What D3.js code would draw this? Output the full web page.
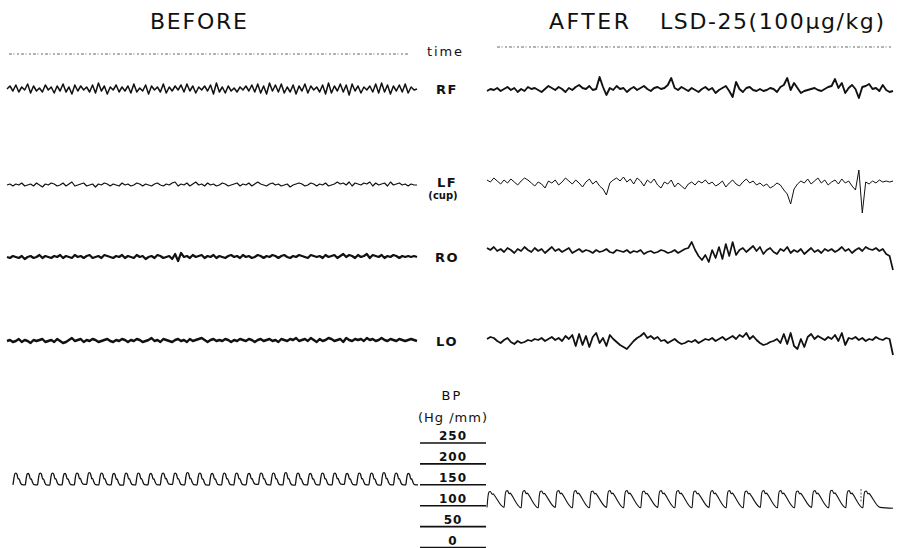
<!DOCTYPE html>
<html>
<head>
<meta charset="utf-8">
<script src="https://cdn.jsdelivr.net/npm/d3@7"></script>
<style>
  body { margin: 0; background: #fff; }
  svg { display: block; }
  text { font-family: "DejaVu Sans", sans-serif; fill: #111; }
</style>
</head>
<body>
<div id="chart"></div>
<script>
"use strict";

// EEG channels, amplitude samples (arbitrary uV, + is up)
const channels = ['RF', 'LF', 'RO', 'LO'];

const beforeRF = [
  0,3,-2,4,-3,2,-1,5,-4,3,-2,1,-3,4,-1,2,-4,3,-2,5,
  -3,2,-5,4,-2,3,-1,2,-3,4,-4,6,-2,3,-5,2,-1,4,-3,2,
  -2,3,-4,5,-3,1,-2,4,-5,3,-1,2,-3,5,-4,2,-2,3,-1,4,
  -3,5,-2,3,-4,2,-1,3,-2,4,-5,6,-3,2,-4,3,-2,1,-3,2,
  -1,3,-2,4,-3,5,-4,3,-5,6,-2,4,-3,5,-4,2,-3,4,-5,3,
  -2,5,-4,3,-1,2,-3,4,-5,6,-4,3,-2,5,-3,4,-6,5,-2,3,
  -4,2,-1,3,-3,5,-4,6,-3,4,-5,3,-2,4,-3,5,-4,2,-1,0
];
const beforeLF = [
  0,1,-1,1,0,2,-1,0,1,-1,2,0,-2,1,0,2,1,-1,0,2,
  -1,1,3,-1,0,1,2,-1,0,1,-2,1,0,2,1,-1,1,0,-1,2,
  0,1,-1,0,2,1,-1,1,0,-1,1,2,0,-1,1,0,2,3,-1,1,
  0,2,-1,1,3,0,1,-1,2,0,1,-1,0,2,1,-1,0,1,2,-1,
  1,0,2,-1,1,3,1,0,-1,1,2,0,1,-1,0,1,-2,0,1,2,
  1,-1,0,2,1,-1,1,0,2,-1,0,1,3,1,2,0,3,-1,2,1,
  0,2,1,3,-1,2,0,1,2,-1,3,0,1,2,0,1,-1,1,0,0
];
const beforeRO = [
  0,-1,1,0,-1,1,-2,0,1,-1,0,2,-1,1,0,-1,1,0,2,-1,
  1,0,-1,2,0,1,-1,1,2,-1,0,1,-1,2,1,0,-1,1,0,2,
  -1,1,0,-1,2,0,1,-2,0,1,-1,2,1,-1,0,1,-2,3,-4,4,
  0,1,-1,2,0,1,2,-1,1,0,2,-1,1,0,-1,1,2,0,1,-1,
  2,0,1,-1,0,2,1,-1,1,0,2,1,-1,1,2,0,-1,1,0,2,
  1,0,-1,2,1,0,1,-1,2,0,1,2,-1,1,3,0,2,1,-1,2,
  0,1,3,-1,2,1,0,2,-1,1,0,2,1,-1,1,0,1,0,1,0
];
const beforeLO = [
  0,1,-1,0,2,-1,1,0,-2,1,0,1,2,-1,0,1,-1,2,0,-2,
  -1,1,3,0,1,2,-1,1,0,2,1,-1,0,1,2,0,-1,1,0,2,
  1,-1,1,0,2,1,-1,0,1,3,0,1,-1,2,1,0,-1,1,2,0,
  1,-1,2,0,1,2,3,1,-1,1,2,0,1,0,2,1,-1,1,0,2,
  1,0,2,1,-1,1,2,0,1,2,0,1,-1,2,1,0,2,1,3,0,
  1,2,0,3,1,-1,2,0,1,3,2,0,1,2,-1,3,1,0,2,1,
  2,0,3,1,2,0,1,3,1,0,2,1,0,2,1,0,1,2,1,0
];

const afterRF = [
  0,2,1,3,0,2,4,1,3,-1,2,0,4,2,3,1,-1,2,5,3,
  1,4,2,-1,3,1,4,6,3,2,5,1,2,14,4,-4,3,1,5,2,
  3,-1,2,4,1,3,5,2,0,3,4,2,3,6,13,3,1,4,2,0,
  3,1,-1,2,4,1,3,-2,1,3,5,0,-6,9,2,-1,3,4,1,0,
  2,0,1,3,2,-1,4,6,13,1,8,3,-2,0,1,2,3,1,0,2,
  4,5,12,3,8,-2,3,6,2,-7,4,5,7,2,3,0,6,1,-1,0
];
const afterLF = [
  6,4,8,5,2,6,3,7,4,1,5,8,6,3,0,4,2,-2,5,3,
  6,1,4,8,5,2,6,3,-1,4,7,2,5,0,-3,-9,3,6,8,5,
  9,4,7,2,8,5,0,6,3,7,1,-2,4,2,6,-1,3,0,-3,2,
  4,1,5,3,6,2,4,0,2,5,-1,3,6,2,0,4,7,3,5,1,
  3,0,2,-2,0,3,1,-4,-8,-18,-3,2,5,3,7,2,5,8,3,6,
  1,4,6,2,7,3,5,0,-4,16,-27,4,2,5,3,6,4,5,4,5
];
const afterRO = [
  4,2,5,1,3,0,4,2,-1,3,1,5,2,0,4,1,3,-1,2,5,
  1,3,0,2,4,-1,1,3,0,2,1,-1,2,0,1,3,0,-1,2,1,
  0,2,-1,1,0,2,-2,0,1,-1,0,2,1,-1,0,2,-1,1,3,4,
  10,2,-4,-8,-3,-10,2,-6,5,-7,8,-4,10,-3,2,4,0,3,6,1,
  5,-2,2,4,0,-2,3,1,5,-1,2,0,3,-2,1,4,0,2,-1,3,
  1,3,0,2,5,1,3,-1,2,4,1,5,3,2,4,1,3,-2,-4,-18
];
const afterLO = [
  2,4,3,0,-2,1,3,-1,-3,0,-2,-1,1,0,2,1,3,0,2,4,
  1,3,0,5,2,6,-5,7,-4,5,-6,4,8,-2,3,-5,6,2,-1,-4,
  -6,-8,-4,0,3,5,8,3,5,2,4,0,1,-2,0,2,-1,-3,-2,0,
  -1,1,-2,0,2,1,3,0,2,4,1,3,5,2,6,4,8,2,5,1,
  -2,-4,-3,-1,0,2,-2,7,-3,8,-5,-8,2,-6,4,7,2,5,3,1,
  4,2,6,0,8,-4,3,2,4,1,3,0,2,1,4,2,1,3,2,-14
];

// blood pressure, one value per beat (mmHg)
const beforeSys = [178,177,178,178,177,178,179,178,177,178,178,177,178,178,179,178,
                   177,178,178,177,178,178,179,178,177,178,178,177,178,178,179,178,177];
const beforeDia = [150,150,149,150,150,151,150,150,149,150,150,150,151,150,150,149,
                   150,150,150,151,150,150,149,150,150,150,151,150,150,149,150,150,150];
const afterSys = [134,136,136,135,136,136,135,136,136,135,136,136,135,136,136,135,136,136,135,136,137,136,135];
const afterDia = [ 96, 95, 95, 96, 95, 95, 96, 95, 95, 96, 95, 95, 96, 95, 95, 96, 95, 95, 96, 95, 95, 95, 96];
const bpTicks = [250, 200, 150, 100, 50, 0];

const width = 897, height = 548;

const svg = d3.select('#chart').append('svg')
    .attr('width', width)
    .attr('height', height);

const panels = [
  { x0: 7, x1: 417, traces: [beforeRF, beforeLF, beforeRO, beforeLO],
    rows: [89, 185, 257, 341], widths: [1.5, 1.2, 2.2, 2.4],
    timeY: 54, time: [9, 408],
    sys: beforeSys, dia: beforeDia, bp: [13, 418] },
  { x0: 487, x1: 893, traces: [afterRF, afterLF, afterRO, afterLO],
    rows: [91, 186, 252, 341], widths: [1.9, 1.0, 1.7, 1.8],
    timeY: 47, time: [497, 893],
    sys: afterSys, dia: afterDia, bp: [487, 880] }
];

/*
 * titles and channel labels
 ***/
svg.append('text')
  .attr('x', 150).attr('y', 29)
  .attr('textLength', 97)
  .style('font-size', '22px')
  .text('BEFORE');

svg.append('text')
  .attr('x', 549).attr('y', 29)
  .attr('textLength', 80)
  .style('font-size', '22px')
  .text('AFTER');

svg.append('text')
  .attr('x', 660).attr('y', 29)
  .attr('textLength', 224)
  .style('font-size', '22px')
  .text('LSD-25(100µg/kg)');

svg.append('text')
  .attr('x', 427).attr('y', 56)
  .attr('textLength', 35)
  .style('font-size', '13px')
  .text('time');

const labelG = svg.append('g')
  .style('font-size', '13px')
  .style('font-weight', 'bold')
  .attr('text-anchor', 'middle');

channels.forEach((ch, i) => {
  labelG.append('text')
    .attr('x', 447)
    .attr('y', panels[0].rows[i] + (ch === 'LF' ? 2 : 5))
    .style('letter-spacing', '1.5px')
    .text(ch);
});

labelG.append('text')
  .attr('x', 443).attr('y', 199)
  .style('font-size', '10px')
  .text('(cup)');

/*
 * EEG traces and time marker
 ***/
panels.forEach(p => {
  svg.append('line')
    .attr('x1', p.time[0]).attr('x2', p.time[1])
    .attr('y1', p.timeY).attr('y2', p.timeY)
    .attr('stroke', '#9a9a9a')
    .attr('stroke-width', 1.6)
    .attr('stroke-dasharray', '3,1.5,1,2.5,2,2');

  p.traces.forEach((values, i) => {
    const x = d3.scaleLinear()
      .domain([0, values.length - 1])
      .range([p.x0, p.x1]);

    const y = d3.scaleLinear()
      .domain([-10, 10])
      .range([p.rows[i] + 10, p.rows[i] - 10]);

    const line = d3.line()
      .x((d, j) => x(j))
      .y(d => y(d));

    svg.append('path')
      .datum(values)
      .attr('d', line)
      .attr('fill', 'none')
      .attr('stroke', '#111')
      .attr('stroke-width', p.widths[i])
      .attr('stroke-linejoin', 'round');
  });
});

/*
 * BP scale
 ***/
const yBP = d3.scaleLinear()
  .domain([0, 250])
  .range([547.5, 443]);

svg.append('text')
  .attr('x', 452).attr('y', 400)
  .attr('text-anchor', 'middle')
  .style('font-size', '13px')
  .style('letter-spacing', '2px')
  .text('BP');

svg.append('text')
  .attr('x', 453).attr('y', 422)
  .attr('text-anchor', 'middle')
  .style('font-size', '13px')
  .style('letter-spacing', '1px')
  .text('(Hg /mm)');

const tickG = svg.append('g')
  .selectAll('g')
  .data(bpTicks)
  .join('g')
    .attr('transform', d => `translate(0,${yBP(d)})`);

tickG.append('line')
  .attr('x1', 420).attr('x2', 486)
  .attr('stroke', '#111')
  .attr('stroke-width', 1.6);

tickG.append('text')
  .attr('x', 453).attr('y', -3)
  .attr('text-anchor', 'middle')
  .style('font-size', '12px')
  .style('font-weight', 'bold')
  .style('letter-spacing', '1px')
  .text(d => d);

/*
 * BP traces: each beat drawn from its systolic / diastolic value
 ***/
const beatShapes = [
  [[0, 0], [0.08, 0.6], [0.16, 0.97], [0.24, 1], [0.32, 0.9], [0.42, 0.5],
   [0.48, 0.53], [0.6, 0.2], [0.72, 0.02], [1, 0]],
  [[0, 0], [0.06, 0.7], [0.12, 0.97], [0.2, 1], [0.3, 0.82], [0.36, 0.86],
   [0.42, 0.78], [1, 0]]
];

panels.forEach((p, k) => {
  const n = p.sys.length;
  const xb = d3.scaleLinear()
    .domain([0, n])
    .range(p.bp);

  const pts = [];
  p.sys.forEach((s, i) => {
    const dia = p.dia[i];
    beatShapes[k].forEach(([t, f]) => {
      if (i > 0 && t === 0) return;
      pts.push([xb(i + t), yBP(dia + f * (s - dia))]);
    });
  });
  if (k === 1) pts.push([p.x1, yBP(p.dia[n - 1] - 2)]);

  svg.append('path')
    .datum(pts)
    .attr('d', d3.line().curve(d3.curveMonotoneX))
    .attr('fill', 'none')
    .attr('stroke', '#111')
    .attr('stroke-width', k === 0 ? 1.3 : 1.1);
});

// small artefact on the AFTER pressure record
svg.append('line')
  .attr('x1', 861).attr('x2', 861)
  .attr('y1', yBP(140)).attr('y2', yBP(108))
  .attr('stroke', '#555')
  .attr('stroke-width', 1)
  .attr('stroke-dasharray', '2,1.5');
</script>
</body>
</html>
